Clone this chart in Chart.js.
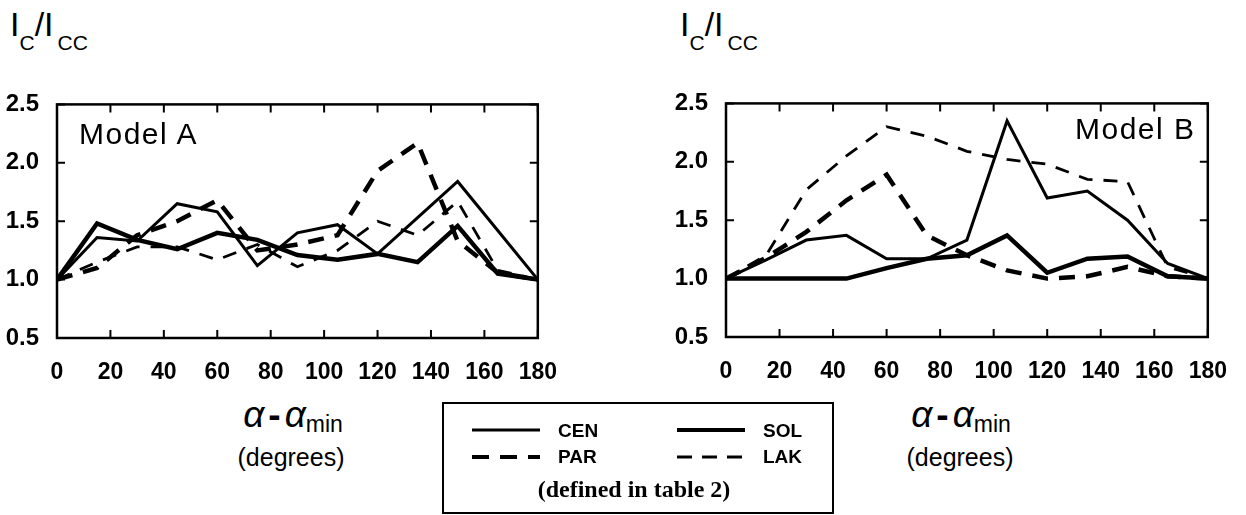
<!DOCTYPE html>
<html>
<head>
<meta charset="utf-8">
<script src="https://cdn.jsdelivr.net/npm/chart.js@4/dist/chart.umd.min.js"></script>
<style>
  body { margin: 0; background: #fff; width: 1246px; height: 515px; position: relative; overflow: hidden;
         font-family: "Liberation Sans", Arial, sans-serif; color: #000; }
  .box { position: absolute; }
  .t { position: absolute; white-space: nowrap; line-height: 1; }
  .ttl { font-size: 34px; }
  .sb { font-size: 21px; position: relative; top: 14px; }
  .model { font-size: 30px; letter-spacing: 1.5px; }
  .alpha { font-size: 37px; font-style: italic; transform: translateX(-50%); }
  .alpha .mn { font-size: 23px; font-style: normal; position: relative; top: 5px; }
  .alpha .mi { font-style: normal; font-weight: bold; margin: 0 4px; }
  .deg { font-size: 25px; transform: translateX(-50%); }
  .lg { font-size: 19px; font-weight: bold; }
  #legend { position: absolute; left: 442px; top: 402px; width: 392px; height: 112px; border: 2px solid #000; box-sizing: border-box; }
  .note { font-family: "Liberation Serif", "Times New Roman", serif; font-weight: bold; font-size: 24px; transform: translateX(-50%); }
</style>
</head>
<body>

<div class="box" style="left:0;top:80px;width:570px;height:300px"><canvas id="chartA"></canvas></div>
<div class="box" style="left:670px;top:79px;width:570px;height:300px"><canvas id="chartB"></canvas></div>

<div class="t ttl" style="left:10px;top:7px">I<span class="sb">C</span>/I<span class="sb" style="margin-left:4px">CC</span></div>
<div class="t ttl" style="left:680px;top:7px">I<span class="sb">C</span>/I<span class="sb" style="margin-left:4px">CC</span></div>

<div class="t model" style="left:79px;top:119px">Model A</div>
<div class="t model" style="left:1075px;top:114px">Model B</div>

<div class="t alpha" style="left:293px;top:396px">α<span class="mi">-</span>α<span class="mn">min</span></div>
<div class="t deg" style="left:291px;top:445px">(degrees)</div>
<div class="t alpha" style="left:961px;top:396px">α<span class="mi">-</span>α<span class="mn">min</span></div>
<div class="t deg" style="left:960px;top:445px">(degrees)</div>

<div id="legend"></div>
<svg class="box" style="left:0;top:0" width="1246" height="515">
  <line x1="472" y1="430" x2="540" y2="430" stroke="#000" stroke-width="3"/>
  <line x1="677" y1="430" x2="745" y2="430" stroke="#000" stroke-width="4"/>
  <line x1="472" y1="457" x2="540" y2="457" stroke="#000" stroke-width="4" stroke-dasharray="17 11"/>
  <line x1="677" y1="457" x2="745" y2="457" stroke="#000" stroke-width="2.8" stroke-dasharray="15 10"/>
</svg>
<div class="t lg" style="left:558px;top:421px">CEN</div>
<div class="t lg" style="left:763px;top:421px">SOL</div>
<div class="t lg" style="left:558px;top:447px">PAR</div>
<div class="t lg" style="left:763px;top:447px">LAK</div>
<div class="t note" style="left:634px;top:477px">(defined in table 2)</div>

<script>
// angle steps, alpha - alpha_min (degrees)
var angles = [0, 15, 30, 45, 60, 75, 90, 105, 120, 135, 150, 165, 180];
var xTicks = [0, 20, 40, 60, 80, 100, 120, 140, 160, 180];
var yTicks = [0.5, 1.0, 1.5, 2.0, 2.5];

// Model A
var aCEN = [1.0, 1.36, 1.33, 1.65, 1.58, 1.12, 1.40, 1.47, 1.22, 1.53, 1.84, 1.42, 1.0];
var aSOL = [1.0, 1.48, 1.34, 1.26, 1.40, 1.34, 1.21, 1.17, 1.22, 1.15, 1.46, 1.05, 1.0];
var aPAR = [1.0, 1.10, 1.38, 1.50, 1.68, 1.25, 1.30, 1.38, 1.93, 2.17, 1.33, 1.06, 1.0];
var aLAK = [1.0, 1.15, 1.28, 1.28, 1.17, 1.30, 1.11, 1.25, 1.50, 1.38, 1.67, 1.08, 1.0];

// Model B
var bCEN = [1.0, 1.16, 1.33, 1.37, 1.17, 1.17, 1.33, 2.35, 1.69, 1.75, 1.50, 1.13, 1.0];
var bSOL = [1.0, 1.0, 1.0, 1.0, 1.09, 1.17, 1.20, 1.37, 1.05, 1.17, 1.19, 1.02, 1.0];
var bPAR = [1.0, 1.18, 1.40, 1.67, 1.89, 1.37, 1.20, 1.07, 1.0, 1.02, 1.10, 1.02, 1.0];
var bLAK = [1.0, 1.20, 1.76, 2.05, 2.30, 2.22, 2.09, 2.02, 1.98, 1.85, 1.83, 1.10, 1.0];

Chart.defaults.font.family = '"Liberation Sans", Arial, sans-serif';
Chart.defaults.color = '#000';

function pts(vals) {
    return vals.map(function (v, i) { return { x: angles[i], y: v }; });
}

function line(label, vals, width, dash) {
    return {
        label: label,
        data: pts(vals),
        borderColor: '#000',
        borderWidth: width,
        borderDash: dash,
        borderJoinStyle: 'miter',
        pointRadius: 0,
        tension: 0,
        fill: false,
    };
}

// frame + inward ticks on all sides
var framePlugin = {
    id: 'frame',
    afterDraw: function (chart) {
        var ctx = chart.ctx, a = chart.chartArea;
        var xs = chart.scales.x, ys = chart.scales.y;
        ctx.save();
        ctx.strokeStyle = '#000';
        ctx.lineWidth = 2.5;
        ctx.strokeRect(a.left, a.top, a.right - a.left, a.bottom - a.top);
        ctx.lineWidth = 2;
        ctx.beginPath();
        xTicks.forEach(function (v) {
            var px = xs.getPixelForValue(v);
            ctx.moveTo(px, a.bottom); ctx.lineTo(px, a.bottom - 8);
            ctx.moveTo(px, a.top); ctx.lineTo(px, a.top + 8);
        });
        yTicks.forEach(function (v) {
            var py = ys.getPixelForValue(v);
            ctx.moveTo(a.left, py); ctx.lineTo(a.left + 8, py);
            ctx.moveTo(a.right, py); ctx.lineTo(a.right - 8, py);
        });
        ctx.stroke();
        ctx.restore();
    }
};

function makeChart(id, cen, sol, par, lak, yWidth, padRight) {
    return new Chart(document.getElementById(id), {
        type: 'line',
        data: {
            datasets: [
                line('CEN', cen, 3, []),
                line('SOL', sol, 4.5, []),
                line('PAR', par, 4.5, [16, 11]),
                line('LAK', lak, 2.8, [14, 11]),
            ]
        },
        options: {
            responsive: true,
            maintainAspectRatio: false,
            animation: false,
            layout: { padding: { top: 14, right: padRight, left: 0, bottom: 0 } },
            plugins: { legend: { display: false }, tooltip: { enabled: false } },
            scales: {
                x: {
                    type: 'linear', min: 0, max: 180,
                    grid: { display: false },
                    border: { display: false },
                    afterFit: function (s) { s.height = 42; },
                    afterBuildTicks: function (s) { s.ticks = xTicks.map(function (v) { return { value: v }; }); },
                    ticks: { padding: 13, maxRotation: 0, font: { size: 23, weight: 'bold' } },
                },
                y: {
                    min: 0.5, max: 2.5,
                    grid: { display: false },
                    border: { display: false },
                    afterFit: function (s) { s.width = yWidth; },
                    afterBuildTicks: function (s) { s.ticks = yTicks.map(function (v) { return { value: v }; }); },
                    ticks: { padding: 10, font: { size: 24, weight: 'bold' },
                             callback: function (v) { return Number(v).toFixed(1); } },
                },
            },
        },
        plugins: [framePlugin],
    });
}

var chartA = makeChart('chartA', aCEN, aSOL, aPAR, aLAK, 57, 17);
var chartB = makeChart('chartB', bCEN, bSOL, bPAR, bLAK, 56, 19);
</script>
</body>
</html>
